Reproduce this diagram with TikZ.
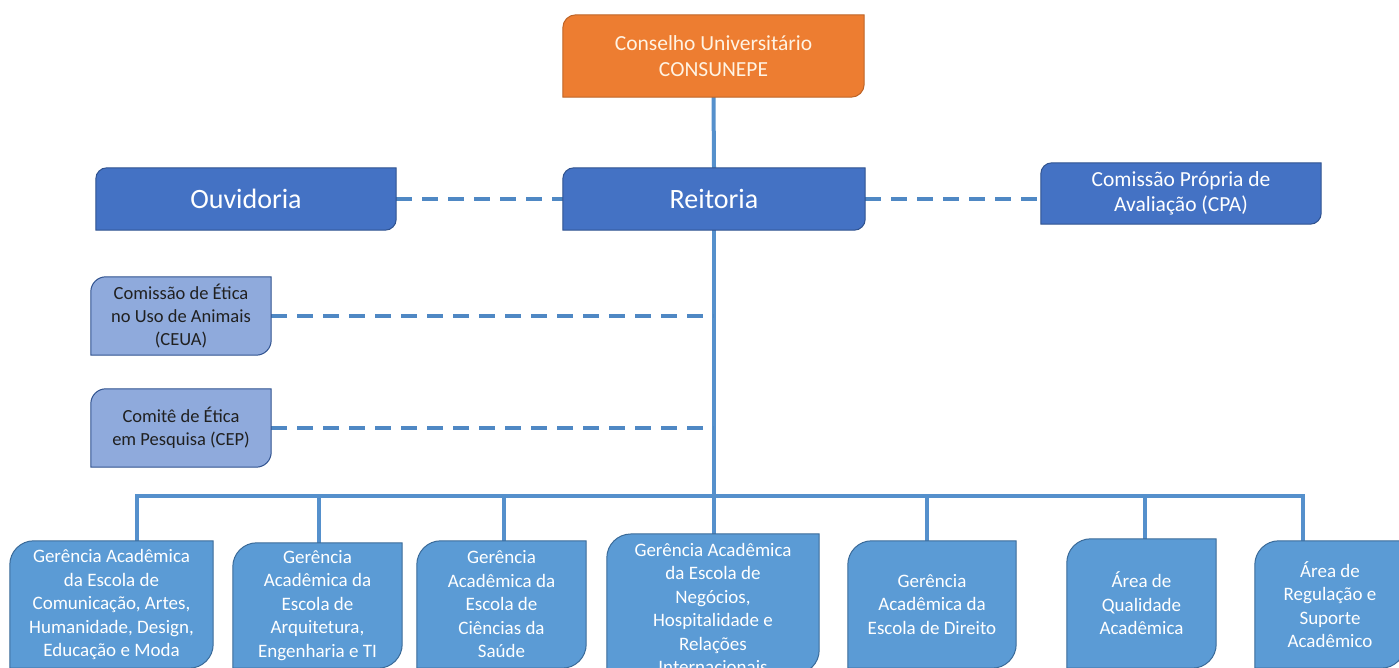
\documentclass[tikz,border=0pt]{standalone}
\usepackage{fontspec}
\setmainfont{Carlito}
\usetikzlibrary{backgrounds}
\definecolor{orangeC}{HTML}{ED7D31}
\definecolor{creamC}{HTML}{FFF3E3}
\definecolor{topblue}{HTML}{4472C4}
\definecolor{topedge}{HTML}{2F528F}
\definecolor{lav}{HTML}{8FAADC}
\definecolor{botblue}{HTML}{5B9BD5}
\definecolor{botedge}{HTML}{3A6A98}
\definecolor{lineC}{HTML}{5590CC}
\definecolor{dashC}{HTML}{4F88C4}
\definecolor{darktext}{HTML}{202020}
% #1 node, #2 radius (number, pt), #3 fill, #4 edge
\newcommand\diagshape[4]{%
  \path[fill=#3,draw=#4,line width=1pt] (#1.north east) -- ([yshift=#2pt]#1.south east)
    .. controls ([yshift={0.448*#2pt}]#1.south east) and ([xshift={-0.448*#2pt}]#1.south east) .. ([xshift=-#2pt]#1.south east)
    -- (#1.south west)
    -- ([yshift=-#2pt]#1.north west)
    .. controls ([yshift={-0.448*#2pt}]#1.north west) and ([xshift={0.448*#2pt}]#1.north west) .. ([xshift=#2pt]#1.north west) -- cycle;}
\tikzset{
  boxbase/.style={inner sep=0pt, align=center},
  topbox/.style={boxbase, text=white, font=\fontsize{28}{33}\selectfont},
  midbox/.style={boxbase, text=darktext, font=\fontsize{18.5}{23}\selectfont, minimum width=180pt, minimum height=78pt},
  botbox/.style={boxbase, text=white, font=\fontsize{19}{23.5}\selectfont},
  solidline/.style={draw=lineC, line width=4pt},
  dashline/.style={draw=dashC, line width=3.2pt, dash pattern=on 16pt off 10pt}
}
\begin{document}
\begin{tikzpicture}[x=1pt,y=-1pt]
\useasboundingbox (0,0) rectangle (1399,668);
\clip (0,0) rectangle (1399,668);
% top boxes
\node[topbox, text=creamC, font=\fontsize{21.5}{26}\selectfont, minimum width=301pt, minimum height=82pt] (cons) at (713.5,56) {Conselho Universitário\\CONSUNEPE};
\node[topbox, minimum width=302pt, minimum height=62pt] (reit) at (714,199) {Reitoria};
\node[topbox, minimum width=300pt, minimum height=62pt] (ouv) at (246,199) {Ouvidoria};
\node[topbox, font=\fontsize{21.5}{25}\selectfont, minimum width=280pt, minimum height=61pt] (cpa) at (1181,193.5) {Comissão Própria de\\Avaliação (CPA)};
% middle boxes
\node[midbox] (ceua) at (181,316) {Comissão de Ética\\no Uso de Animais\\(CEUA)};
\node[midbox] (cep) at (181,428) {Comitê de Ética\\em Pesquisa (CEP)};
% bottom boxes
\node[botbox, minimum width=203pt, minimum height=127pt] (g1) at (111.5,604.5) {Gerência Acadêmica\\da Escola de\\Comunicação, Artes,\\Humanidade, Design,\\Educação e Moda};
\node[botbox, minimum width=169pt, minimum height=125pt] (g2) at (317.5,605.5) {Gerência\\Acadêmica da\\Escola de\\Arquitetura,\\Engenharia e TI};
\node[botbox, minimum width=169pt, minimum height=127pt] (g3) at (501.5,604.5) {Gerência\\Acadêmica da\\Escola de\\Ciências da\\Saúde};
\node[botbox, minimum width=212pt, minimum height=128pt] (g4) at (713,604) {\\[-1.5pt]Gerência Acadêmica\\da Escola de\\Negócios,\\Hospitalidade e\\Relações\\Internacionais};
\node[botbox, minimum width=168pt, minimum height=127pt] (g5) at (932,604.5) {Gerência\\Acadêmica da\\Escola de Direito};
\node[botbox, minimum width=149pt, minimum height=129pt] (g6) at (1141.5,603.5) {Área de\\Qualidade\\Acadêmica};
\node[botbox, minimum width=150pt, minimum height=127pt] (g7) at (1330,604.5) {Área de\\Regulação e\\Suporte\\Acadêmico};
% connector coordinates
\coordinate (bar) at (714,496);
\coordinate (d1) at (137,496);
\coordinate (d2) at (319,496);
\coordinate (d3) at (504,496);
\coordinate (d5) at (927,496);
\coordinate (d6) at (1145,496);
\coordinate (d7) at (1303,496);
\begin{scope}[on background layer]
  \draw[solidline] (cons.south) -- (reit.north);
  \draw[solidline] (reit.south) -- (bar);
  \draw[solidline, line cap=rect] (d1) -- (d7);
  \draw[solidline] (d1) -- (d1 |- g1.north);
  \draw[solidline] (d2) -- (d2 |- g2.north);
  \draw[solidline] (d3) -- (d3 |- g3.north);
  \draw[solidline] (bar) -- (g4.north -| bar);
  \draw[solidline] (d5) -- (d5 |- g5.north);
  \draw[solidline] (d6) -- (d6 |- g6.north);
  \draw[solidline] (d7) -- (d7 |- g7.north);
  \draw[dashline] (ouv.east) -- (reit.west);
  \draw[dashline] (reit.east) -- (reit.east -| cpa.west);
  \draw[dashline] (ceua.east) -- (ceua.east -| bar);
  \draw[dashline] (cep.east) -- (cep.east -| bar);
  \diagshape{cons}{13}{orangeC}{orangeC!80!black}
  \diagshape{reit}{11}{topblue}{topedge}
  \diagshape{ouv}{11}{topblue}{topedge}
  \diagshape{cpa}{11}{topblue}{topedge}
  \diagshape{ceua}{15}{lav}{topedge}
  \diagshape{cep}{15}{lav}{topedge}
  \diagshape{g1}{24}{botblue}{botedge}
  \diagshape{g2}{24}{botblue}{botedge}
  \diagshape{g3}{24}{botblue}{botedge}
  \diagshape{g4}{24}{botblue}{botedge}
  \diagshape{g5}{24}{botblue}{botedge}
  \diagshape{g6}{24}{botblue}{botedge}
  \diagshape{g7}{24}{botblue}{botedge}
\end{scope}
\end{tikzpicture}
\end{document}
